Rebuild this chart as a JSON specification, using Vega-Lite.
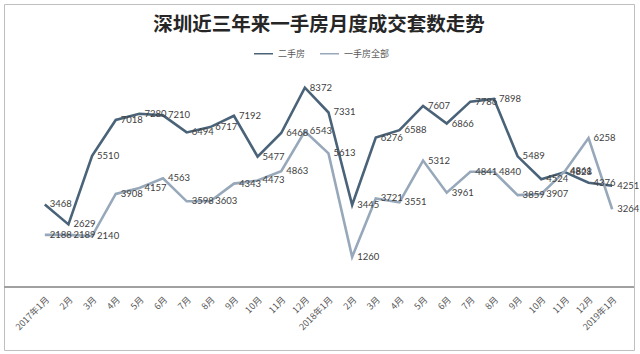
{
  "$schema": "https://vega.github.io/schema/vega-lite/v6.json",
  "width": 630,
  "height": 346,
  "autosize": {"type": "none"},
  "padding": {"left": 4, "top": 4, "right": 6, "bottom": 4},
  "background": "white",
  "config": {
    "view": {"stroke": "#bfbfbf", "strokeWidth": 1},
    "font": "Lato"
  },
  "title": {
    "text": "深圳近三年来一手房月度成交套数走势",
    "font": "Noto Sans CJK SC",
    "fontSize": 19.5,
    "fontWeight": "bold",
    "color": "#262626",
    "anchor": "middle",
    "baseline": "middle",
    "offset": -40
  },
  "data": {
    "values": [
      {"month": "2017年1月", "series": "二手房", "value": 3468},
      {"month": "2017年1月", "series": "一手房全部", "value": 2188},
      {"month": "2月", "series": "二手房", "value": 2629},
      {"month": "2月", "series": "一手房全部", "value": 2189},
      {"month": "3月", "series": "二手房", "value": 5510},
      {"month": "3月", "series": "一手房全部", "value": 2140},
      {"month": "4月", "series": "二手房", "value": 7018},
      {"month": "4月", "series": "一手房全部", "value": 3908},
      {"month": "5月", "series": "二手房", "value": 7280},
      {"month": "5月", "series": "一手房全部", "value": 4157},
      {"month": "6月", "series": "二手房", "value": 7210},
      {"month": "6月", "series": "一手房全部", "value": 4563},
      {"month": "7月", "series": "二手房", "value": 6494},
      {"month": "7月", "series": "一手房全部", "value": 3598},
      {"month": "8月", "series": "二手房", "value": 6717},
      {"month": "8月", "series": "一手房全部", "value": 3603},
      {"month": "9月", "series": "二手房", "value": 7192},
      {"month": "9月", "series": "一手房全部", "value": 4343},
      {"month": "10月", "series": "二手房", "value": 5477},
      {"month": "10月", "series": "一手房全部", "value": 4473},
      {"month": "11月", "series": "二手房", "value": 6468},
      {"month": "11月", "series": "一手房全部", "value": 4863},
      {"month": "12月", "series": "二手房", "value": 8372},
      {"month": "12月", "series": "一手房全部", "value": 6543},
      {"month": "2018年1月", "series": "二手房", "value": 7331},
      {"month": "2018年1月", "series": "一手房全部", "value": 5613},
      {"month": "2月 ", "series": "二手房", "value": 3445},
      {"month": "2月 ", "series": "一手房全部", "value": 1260},
      {"month": "3月 ", "series": "二手房", "value": 6276},
      {"month": "3月 ", "series": "一手房全部", "value": 3721},
      {"month": "4月 ", "series": "二手房", "value": 6588},
      {"month": "4月 ", "series": "一手房全部", "value": 3551},
      {"month": "5月 ", "series": "二手房", "value": 7607},
      {"month": "5月 ", "series": "一手房全部", "value": 5312},
      {"month": "6月 ", "series": "二手房", "value": 6866},
      {"month": "6月 ", "series": "一手房全部", "value": 3961},
      {"month": "7月 ", "series": "二手房", "value": 7786},
      {"month": "7月 ", "series": "一手房全部", "value": 4841},
      {"month": "8月 ", "series": "二手房", "value": 7898},
      {"month": "8月 ", "series": "一手房全部", "value": 4840},
      {"month": "9月 ", "series": "二手房", "value": 5489},
      {"month": "9月 ", "series": "一手房全部", "value": 3859},
      {"month": "10月 ", "series": "二手房", "value": 4524},
      {"month": "10月 ", "series": "一手房全部", "value": 3907},
      {"month": "11月 ", "series": "二手房", "value": 4828},
      {"month": "11月 ", "series": "一手房全部", "value": 4861},
      {"month": "12月 ", "series": "二手房", "value": 4376},
      {"month": "12月 ", "series": "一手房全部", "value": 6258},
      {"month": "2019年1月", "series": "二手房", "value": 4251},
      {"month": "2019年1月", "series": "一手房全部", "value": 3264}
    ]
  },
  "layer": [
    {
      "mark": {"type": "line", "strokeWidth": 2.6},
      "encoding": {
        "x": {
          "field": "month",
          "type": "ordinal",
          "scale": {
            "type": "band",
            "domain": ["2017年1月", "2月", "3月", "4月", "5月", "6月", "7月", "8月", "9月", "10月", "11月", "12月", "2018年1月", "2月 ", "3月 ", "4月 ", "5月 ", "6月 ", "7月 ", "8月 ", "9月 ", "10月 ", "11月 ", "12月 ", "2019年1月"],
            "range": [29, 620],
            "paddingInner": 0,
            "paddingOuter": 0
          },
          "axis": {
            "title": null,
            "orient": "bottom",
            "offset": -63,
            "domain": true,
            "domainColor": "#a0a0a0",
            "domainWidth": 1,
            "ticks": false,
            "grid": false,
            "labelAngle": -45,
            "labelFont": "Noto Sans CJK SC",
            "labelFontSize": 9,
            "labelColor": "#595959",
            "labelPadding": 8
          }
        },
        "y": {
          "field": "value",
          "type": "quantitative",
          "scale": {"domain": [-2650, 11890], "nice": false, "zero": false},
          "axis": null
        },
        "color": {
          "field": "series",
          "type": "nominal",
          "scale": {"domain": ["二手房", "一手房全部"], "range": ["#4a6378", "#97a8ba"]},
          "legend": {
            "title": null,
            "orient": "none",
            "legendX": 249,
            "legendY": 39,
            "direction": "horizontal",
            "symbolType": "stroke",
            "symbolSize": 361,
            "symbolStrokeWidth": 1.5,
            "labelFont": "Noto Sans CJK SC",
            "labelFontSize": 9,
            "labelColor": "#595959",
            "labelOffset": 4,
            "columnPadding": 11,
            "padding": 0
          }
        }
      }
    },
    {
      "mark": {"type": "text", "align": "left", "baseline": "middle", "dx": 5, "fontSize": 9.5, "color": "#404040", "font": "Lato"},
      "encoding": {
        "x": {"field": "month", "type": "ordinal"},
        "y": {"field": "value", "type": "quantitative"},
        "text": {"field": "value", "type": "quantitative", "format": "d"}
      }
    },
    {
      "mark": {"type": "rule", "color": "#a0a0a0", "strokeWidth": 1},
      "encoding": {
        "y": {"datum": 0, "type": "quantitative"}
      }
    }
  ]
}
